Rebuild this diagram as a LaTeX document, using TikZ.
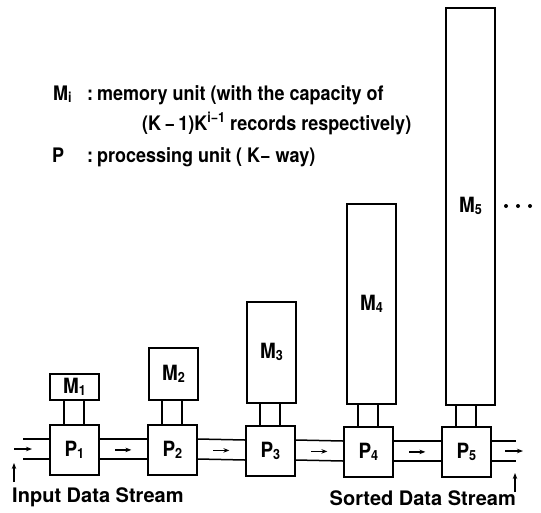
\documentclass[tikz,border=0pt]{standalone}
\usepackage{fontspec}
\setmainfont{TeX Gyre Heros}
\newfontfamily\narrowfont{TeX Gyre Heros}[FakeStretch=0.9]
\usetikzlibrary{calc,arrows.meta}
\newcommand\lsub[1]{{\fontsize{14}{14}\selectfont\raisebox{-2pt}{#1}}}
\newcommand\lsup[1]{{\fontsize{14}{14}\selectfont\raisebox{8pt}{#1}}}
\begin{document}
\begin{tikzpicture}[x=1pt,y=-1pt,
  box/.style={draw,line width=1.8pt,minimum width=49pt,inner sep=0pt,anchor=north west,font=\narrowfont\fontsize{21}{21}\selectfont\bfseries},
  pbox/.style={box,minimum height=50pt},
  wire/.style={line width=1.5pt},
  flow/.style={line width=1.2pt,-{Stealth[length=6pt,width=4.5pt]}},
  leg/.style={anchor=base west,inner sep=0pt,font=\narrowfont\fontsize{20}{20}\selectfont\bfseries},
  lbl/.style={anchor=base west,inner sep=0pt,font=\fontsize{20}{20}\selectfont\bfseries}
]
\useasboundingbox (0,0) rectangle (541,512);
% legend
\node[leg] (l1a) at (53,100) {M\lsub{i}};
\node[leg] (l1b) at (87,100) {:};
\node[leg] (l1c) at (97,100) {memory unit (with the capacity of};
\node[leg] (l2) at (142,130) {(K\,−\,1)K\lsup{i−1} records respectively)};
\node[leg] (l3a) at (52,162) {P};
\node[leg] (l3b) at (87,162) {:};
\node[leg] (l3c) at (97,162) {processing unit ( K− way)};
% processing units
\node[pbox] (P1) at (49,424) {P\lsub{1}};
\node[pbox] (P2) at (147,424) {P\lsub{2}};
\node[pbox] (P3) at (245,425) {P\lsub{3}};
\node[pbox] (P4) at (343,426) {P\lsub{4}};
\node[pbox] (P5) at (441,426) {P\lsub{5}};
% memory units
\node[box,minimum height=26pt] (M1) at (49,373) {M\lsub{1}};
\node[box,minimum height=52pt] (M2) at (148,347) {M\lsub{2}};
\node[box,minimum height=101pt] (M3) at (246,301) {M\lsub{3}};
\node[box,minimum height=200pt] (M4) at (346,203) {M\lsub{4}};
\node[box,minimum height=397pt] (M5) at (445,7) {M\lsub{5}};
% memory-processor links
\foreach \i in {1,...,5}{
  \draw[wire] ([xshift=15pt]P\i.north west) -- ([xshift=15pt]P\i.north west |- M\i.south);
  \draw[wire] ([xshift=35pt]P\i.north west) -- ([xshift=35pt]P\i.north west |- M\i.south);
}
% channels between processors
\foreach \i/\j in {1/2,2/3,3/4,4/5}{
  \draw[wire] ([yshift=-15pt]P\i.north east) -- ([yshift=-15pt]P\j.north west);
  \draw[wire] ([yshift=-35pt]P\i.north east) -- ([yshift=-35pt]P\j.north west);
  \draw[flow] ($(P\i.east)!0.5!(P\j.west)+(-8,0)$) -- ++(16,0);
}
% input
\coordinate (inA) at (23,439);
\coordinate (inB) at (23,459);
\draw[wire] ([yshift=-15pt]P1.north west) -- (inA);
\draw[wire] ([yshift=-35pt]P1.north west) -- (inB);
\coordinate (inArrS) at (14,449);
\coordinate (inArrE) at (32,449);
\draw[flow] (inArrS) -- (inArrE);
\coordinate (inUpS) at (14,482);
\coordinate (inUpE) at (14,463);
\draw[flow] (inUpS) -- (inUpE);
\node[lbl] (inLbl) at (12,502) {Input Data Stream};
% output
\coordinate (outA) at (516,441);
\coordinate (outB) at (516,461);
\draw[wire] ([yshift=-15pt]P5.north east) -- (outA);
\draw[wire] ([yshift=-35pt]P5.north east) -- (outB);
\coordinate (outArrS) at (505,451);
\coordinate (outArrE) at (523,451);
\draw[flow] (outArrS) -- (outArrE);
\coordinate (outUpS) at (515,492);
\coordinate (outUpE) at (515,473);
\draw[flow] (outUpS) -- (outUpE);
\node[lbl,anchor=base east] (outLbl) at (516,505) {Sorted Data Stream};
% continuation dots
\fill (506,206) circle (2);
\fill (518,206) circle (2);
\fill (530,206) circle (2);
\end{tikzpicture}
\end{document}
